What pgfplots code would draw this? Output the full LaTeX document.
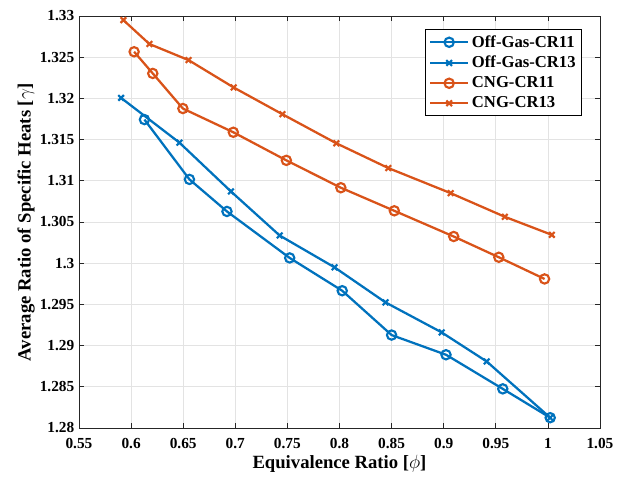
\documentclass[border=0pt]{standalone}
\usepackage{fontspec}
\setmainfont{Liberation Serif}
\usepackage{pgfplots}
\pgfplotsset{compat=1.18}
\definecolor{mblue}{rgb}{0,0.447,0.741}
\definecolor{morange}{rgb}{0.85,0.325,0.098}
\begin{document}
\bfseries
\begin{tikzpicture}
\useasboundingbox (-59.25pt,-38.25pt) rectangle (409.5pt,321pt);
\begin{axis}[
  scale only axis,
  width=390.75pt, height=309pt,
  xmin=0.55, xmax=1.05, ymin=1.28, ymax=1.33,
  xtick={0.55,0.6,...,1.05},
  ytick={1.28,1.285,...,1.33},
  yticklabel style={/pgf/number format/precision=3},
  xticklabel style={yshift=-4.5pt},
  /pgf/number format/assume math mode=true,
  tick label style={font=\fontsize{11.5}{13}\selectfont\bfseries},
  label style={font=\fontsize{14}{16}\selectfont\bfseries},
  xlabel={Equivalence Ratio [$\phi$]},
  ylabel={Average Ratio of Specific Heats [$\gamma$]},
  xlabel style={yshift=2pt},
  ylabel style={yshift=-3pt},
  grid=major,
  major grid style={gray!22, line width=0.6pt},
  axis line style={black!85, line width=0.6pt},
  major tick length=4pt,
  tick style={black!85, line width=0.6pt},
  every axis plot/.append style={line width=1.7pt},
  legend style={at={(0.9655,0.9684)}, anchor=north east, draw=black, line width=0.6pt,
    font=\fontsize{12.5}{15}\selectfont\bfseries, row sep=1.2pt, inner sep=2.5pt},
  legend cell align=left,
  legend image code/.code={
    \draw[mark repeat=2,mark phase=2] plot coordinates {(0cm,0cm) (0.5cm,0cm) (1.0cm,0cm)};
  },
]
\addplot[mblue, mark=o, mark size=3.5pt, mark options={solid, line width=1.6pt}] coordinates {
(0.6128,1.31743) (0.6560,1.31017) (0.6920,1.30628) (0.7522,1.30064) (0.8026,1.29666)
(0.8500,1.29128) (0.9022,1.28889) (0.9567,1.28475) (1.0022,1.28125)
};
\addlegendentry{Off-Gas-CR11}
\addplot[mblue, mark=x, mark size=3pt, mark options={solid, line width=1.6pt}] coordinates {
(0.5904,1.32006) (0.6464,1.31463) (0.6958,1.30871) (0.7426,1.30336) (0.7952,1.29950)
(0.8442,1.29524) (0.8981,1.29160) (0.9413,1.28807) (1.0022,1.28125)
};
\addlegendentry{Off-Gas-CR13}
\addplot[morange, mark=o, mark size=3.5pt, mark options={solid, line width=1.6pt}] coordinates {
(0.6029,1.32566) (0.6208,1.32303) (0.6497,1.31877) (0.6981,1.31589) (0.7490,1.31248)
(0.8013,1.30916) (0.8526,1.30636) (0.9096,1.30324) (0.9529,1.30072) (0.9968,1.29809)
};
\addlegendentry{CNG-CR11}
\addplot[morange, mark=x, mark size=3pt, mark options={solid, line width=1.6pt}] coordinates {
(0.5926,1.32950) (0.6176,1.32660) (0.6551,1.32465) (0.6984,1.32133) (0.7452,1.31808)
(0.7970,1.31455) (0.8468,1.31155) (0.9067,1.30850) (0.9587,1.30563) (1.0038,1.30344)
};
\addlegendentry{CNG-CR13}
\end{axis}
\end{tikzpicture}
\end{document}
